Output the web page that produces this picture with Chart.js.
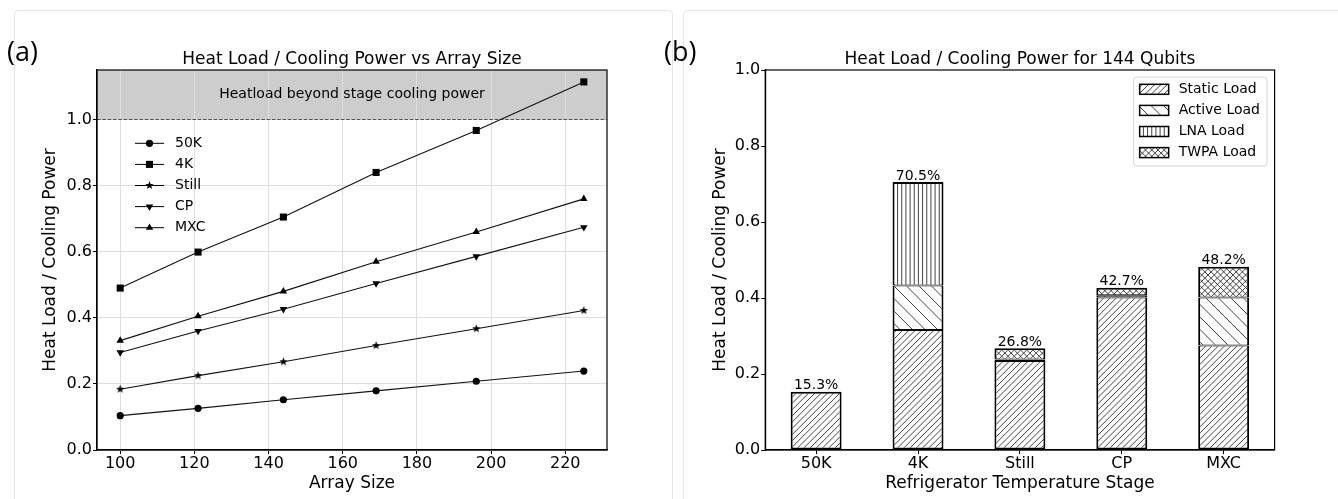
<!DOCTYPE html>
<html lang="en">
<head>
<meta charset="UTF-8" />
<title>Heat Load / Cooling Power</title>
<script src="https://cdn.jsdelivr.net/npm/chart.js"></script>
<style>
  body { margin: 0; background: #fff; }
  .page { position: relative; width: 1338px; height: 499px; overflow: hidden; }
  .card { position: absolute; top: 10px; height: 540px; border: 1px solid #e6e6e6; border-radius: 4px; }
  .chart-box { position: absolute; top: 0; height: 499px; }
  .tag { position: absolute; top: 37px; font-family: "Open Sans", sans-serif; font-size: 27px; line-height: 1; color: #000; }
</style>
</head>
<body>
<div class="page">
  <div class="card" style="left:14px; width:657px;"></div>
  <div class="card" style="left:683px; width:700px;"></div>
  <div class="chart-box" style="left:0; width:680px;"><canvas id="sizeChart" width="680" height="499"></canvas></div>
  <div class="chart-box" style="left:683px; width:655px;"><canvas id="stageChart" width="655" height="499"></canvas></div>
  <div class="tag" style="left:7px;">(a)</div>
  <div class="tag" style="left:664px;">(b)</div>
</div>

<script>
// (a) heat load / cooling power per stage vs array size
const arraySizes = [100, 121, 144, 169, 196, 225];
const load50K   = [0.104, 0.126, 0.152, 0.179, 0.208, 0.239];
const load4K    = [0.490, 0.599, 0.705, 0.840, 0.967, 1.114];
const loadStill = [0.184, 0.225, 0.267, 0.316, 0.367, 0.422];
const loadCP    = [0.295, 0.360, 0.426, 0.504, 0.586, 0.674];
const loadMXC   = [0.331, 0.405, 0.480, 0.570, 0.660, 0.760];
const coolingLimit = 1.0;

// (b) breakdown for 144 qubits
const stages     = ['50K', '4K', 'Still', 'CP', 'MXC'];
const staticLoad = [0.153, 0.316, 0.234, 0.401, 0.275];
const activeLoad = [null, 0.117, 0.004, 0.006, 0.126];
const lnaLoad    = [null, 0.272, null, null, null];
const twpaLoad   = [null, null, 0.030, 0.020, 0.081];

Chart.defaults.font.family = "'DejaVu Sans', sans-serif";
Chart.defaults.color = '#000';
Chart.defaults.animation = false;

// filled 5-point star, matplotlib style '*'
function starMarker(r) {
    const size = Math.ceil(r * 2 + 2);
    const c = document.createElement('canvas');
    c.width = size; c.height = size;
    const g = c.getContext('2d');
    g.fillStyle = '#000';
    g.beginPath();
    for (let i = 0; i < 10; i++) {
        const rad = i % 2 ? r * 0.42 : r;
        const a = -Math.PI / 2 + i * Math.PI / 5;
        g.lineTo(size / 2 + rad * Math.cos(a), size / 2 + rad * Math.sin(a));
    }
    g.closePath();
    g.fill();
    return c;
}

// hatch tiles: n lines per 25px cell
function makeHatch(ctx, kind, n) {
    const U = 25, step = U / n;
    const c = document.createElement('canvas');
    c.width = U; c.height = U;
    const g = c.getContext('2d');
    g.fillStyle = '#fff';
    g.fillRect(0, 0, U, U);
    g.strokeStyle = '#222';
    g.lineWidth = 0.85;
    g.beginPath();
    for (let k = -2 * n; k <= 4 * n; k++) {
        const c0 = k * step;
        if (kind === '/' || kind === 'x') { g.moveTo(c0 + U, -U); g.lineTo(c0 - 2 * U, 2 * U); }
        if (kind === '\\' || kind === 'x') { g.moveTo(c0 - U, -U); g.lineTo(c0 + 2 * U, 2 * U); }
        if (kind === '|' && k >= 0 && k < n) { g.moveTo(c0 + step / 2, 0); g.lineTo(c0 + step / 2, U); }
    }
    g.stroke();
    return ctx.createPattern(c, 'repeat');
}

function frameArea(chart) {
    const {ctx, chartArea: ca} = chart;
    ctx.save();
    ctx.strokeStyle = '#000';
    ctx.lineWidth = 1.2;
    ctx.strokeRect(ca.left, ca.top, ca.right - ca.left, ca.bottom - ca.top);
    ctx.restore();
}

// ---------- chart (a) ----------
const lineSeries = [
    {label: '50K',   data: load50K,   style: 'circle',   radius: 3.6, rot: 0},
    {label: '4K',    data: load4K,    style: 'rect',     radius: 5, rot: 0},
    {label: 'Still', data: loadStill, style: starMarker(4.4), radius: 4, rot: 0},
    {label: 'CP',    data: loadCP,    style: 'triangle', radius: 4.3, rot: 180},
    {label: 'MXC',   data: loadMXC,   style: 'triangle', radius: 4.3, rot: 0}
];

const limitZone = {
    id: 'limitZone',
    beforeDraw(chart) {
        const {ctx, chartArea: ca, scales} = chart;
        const y1 = scales.y.getPixelForValue(coolingLimit);
        ctx.save();
        ctx.fillStyle = '#cdcdcd';
        ctx.fillRect(ca.left, ca.top, ca.right - ca.left, y1 - ca.top);
        ctx.restore();
    },
    beforeDatasetsDraw(chart) {
        const {ctx, chartArea: ca, scales} = chart;
        const y1 = scales.y.getPixelForValue(coolingLimit);
        ctx.save();
        ctx.strokeStyle = '#555';
        ctx.lineWidth = 1.1;
        ctx.setLineDash([3.7, 1.6]);
        ctx.beginPath();
        ctx.moveTo(ca.left, y1);
        ctx.lineTo(ca.right, y1);
        ctx.stroke();
        ctx.setLineDash([]);
        ctx.fillStyle = '#000';
        ctx.font = "14px 'DejaVu Sans'";
        ctx.textAlign = 'center';
        ctx.textBaseline = 'middle';
        ctx.fillText('Heatload beyond stage cooling power', (ca.left + ca.right) / 2, (ca.top + y1) / 2);
        ctx.restore();
    },
    afterDraw(chart) {
        frameArea(chart);
        const {ctx, chartArea: ca} = chart;
        ctx.save();
        ctx.font = "14px 'DejaVu Sans'";
        ctx.textBaseline = 'middle';
        chart.data.datasets.forEach((ds, i) => {
            const y = ca.top + 73.3 + i * 21.1;
            const x0 = ca.left + 38;
            ctx.strokeStyle = '#000';
            ctx.lineWidth = 1;
            ctx.beginPath();
            ctx.moveTo(x0, y);
            ctx.lineTo(x0 + 29, y);
            ctx.stroke();
            ctx.fillStyle = '#000';
            Chart.helpers.drawPoint(ctx, {pointStyle: ds.pointStyle, radius: ds.pointRadius, rotation: ds.pointRotation, borderWidth: 0}, x0 + 14.5, y);
            ctx.fillText(ds.label, ca.left + 78, y);
        });
        ctx.restore();
    }
};

new Chart(document.getElementById('sizeChart'), {
    type: 'line',
    data: {
        datasets: lineSeries.map(s => ({
            label: s.label,
            data: arraySizes.map((x, i) => ({x: x, y: s.data[i]})),
            borderColor: '#111',
            borderWidth: 1.1,
            pointStyle: s.style,
            pointRadius: s.radius,
            pointRotation: s.rot,
            pointBackgroundColor: '#000',
            pointBorderColor: '#000',
            pointBorderWidth: 0,
            tension: 0,
            fill: false
        }))
    },
    options: {
        responsive: false,
        layout: {padding: {left: 0, right: 73, top: 0, bottom: 0}, autoPadding: false},
        plugins: {
            legend: {display: false},
            tooltip: {enabled: false},
            title: {
                display: true,
                text: 'Heat Load / Cooling Power vs Array Size',
                fullSize: false,
                font: {size: 17, weight: 'normal'},
                padding: {top: 49.6, bottom: 0}
            }
        },
        scales: {
            x: {
                type: 'linear',
                min: 93.75,
                max: 231.25,
                afterFit: s => { s.height = 49; },
                grid: {color: '#dedede', tickColor: '#000', tickLength: 4},
                border: {color: '#000', width: 1.2},
                ticks: {stepSize: 20, includeBounds: false, font: {size: 16, lineHeight: 1}, padding: 2},
                title: {display: true, text: 'Array Size', font: {size: 17}, padding: {top: 0, bottom: 5}}
            },
            y: {
                min: 0,
                max: 1.15,
                afterFit: s => { s.width = 97; },
                grid: {color: '#dedede', tickColor: '#000', tickLength: 4},
                border: {color: '#000', width: 1.2},
                ticks: {stepSize: 0.2, includeBounds: false, font: {size: 16}, padding: 1, callback: v => v.toFixed(1)},
                title: {display: true, text: 'Heat Load / Cooling Power', font: {size: 17}, padding: {top: 40.8, bottom: 0}}
            }
        }
    },
    plugins: [limitZone]
});

// ---------- chart (b) ----------
const stageCanvas = document.getElementById('stageChart');
const stageCtx = stageCanvas.getContext('2d');
const barSeries = [
    {label: 'Static Load', data: staticLoad, fill: makeHatch(stageCtx, '/', 4)},
    {label: 'Active Load', data: activeLoad, fill: makeHatch(stageCtx, '\\', 2)},
    {label: 'LNA Load',    data: lnaLoad,    fill: makeHatch(stageCtx, '|', 6)},
    {label: 'TWPA Load',   data: twpaLoad,   fill: makeHatch(stageCtx, 'x', 4)}
];

// outer outline 2px, shared joins 1+1
function barEdges(c) {
    const i = c.dataIndex, d = c.datasetIndex;
    const topmost = barSeries.slice(d + 1).every(b => b.data[i] == null);
    return {left: 2, right: 2, top: topmost ? 2 : 1, bottom: d === 0 ? 2 : 1};
}

const stageExtras = {
    id: 'stageExtras',
    afterDatasetsDraw(chart) {
        const {ctx, scales} = chart;
        ctx.save();
        ctx.font = "14px 'DejaVu Sans'";
        ctx.textAlign = 'center';
        ctx.textBaseline = 'alphabetic';
        ctx.fillStyle = '#000';
        stages.forEach((s, i) => {
            const total = barSeries.reduce((sum, b) => sum + (b.data[i] || 0), 0);
            const x = scales.x.getPixelForValue(i);
            const y = scales.y.getPixelForValue(total);
            ctx.fillText((total * 100).toFixed(1) + '%', x, y - 2.5);
        });
        ctx.restore();
    },
    afterDraw(chart) {
        frameArea(chart);
        const {ctx, chartArea: ca} = chart;
        ctx.save();
        ctx.font = "14px 'DejaVu Sans'";
        const textW = Math.max(...barSeries.map(b => ctx.measureText(b.label).width));
        const w = 45 + textW + 7, h = 89;
        const bx = ca.right - 7.6 - w, by = ca.top + 7;
        ctx.fillStyle = 'rgba(255,255,255,0.8)';
        ctx.strokeStyle = '#d4d4d4';
        ctx.lineWidth = 1;
        ctx.beginPath();
        ctx.roundRect(bx, by, w, h, 3);
        ctx.fill();
        ctx.stroke();
        ctx.textBaseline = 'middle';
        barSeries.forEach((b, i) => {
            const y = by + 12.3 + i * 21.1;
            ctx.fillStyle = b.fill;
            ctx.fillRect(bx + 6, y - 5, 29, 10);
            ctx.strokeStyle = '#000';
            ctx.lineWidth = 1.5;
            ctx.strokeRect(bx + 6, y - 5, 29, 10);
            ctx.fillStyle = '#000';
            ctx.fillText(b.label, bx + 45, y);
        });
        ctx.restore();
    }
};

new Chart(stageCanvas, {
    type: 'bar',
    data: {
        labels: stages,
        datasets: barSeries.map(b => ({
            label: b.label,
            data: b.data,
            backgroundColor: b.fill,
            borderColor: '#000',
            borderWidth: barEdges,
            borderSkipped: false,
            barPercentage: 0.5,
            categoryPercentage: 1.0,
            stack: 'load'
        }))
    },
    options: {
        responsive: false,
        layout: {padding: {left: 0, right: 63.4, top: 0, bottom: 0}, autoPadding: false},
        plugins: {
            legend: {display: false},
            tooltip: {enabled: false},
            title: {
                display: true,
                text: 'Heat Load / Cooling Power for 144 Qubits',
                fullSize: false,
                font: {size: 17, weight: 'normal'},
                padding: {top: 49.6, bottom: 0}
            }
        },
        scales: {
            x: {
                stacked: true,
                offset: true,
                afterFit: s => { s.height = 49; },
                grid: {drawOnChartArea: false, offset: false, tickColor: '#000', tickLength: 4},
                border: {color: '#000', width: 1.2},
                ticks: {font: {size: 16, lineHeight: 1}, padding: 2},
                title: {display: true, text: 'Refrigerator Temperature Stage', font: {size: 17}, padding: {top: 0, bottom: 5}}
            },
            y: {
                stacked: true,
                min: 0,
                max: 1.0,
                afterFit: s => { s.width = 82.2; },
                grid: {drawOnChartArea: false, tickColor: '#000', tickLength: 4},
                border: {color: '#000', width: 1.2},
                ticks: {stepSize: 0.2, font: {size: 16}, padding: 1, callback: v => v.toFixed(1)},
                title: {display: true, text: 'Heat Load / Cooling Power', font: {size: 17}, padding: {top: 27.5, bottom: 0}}
            }
        }
    },
    plugins: [stageExtras]
});
</script>
</body>
</html>
